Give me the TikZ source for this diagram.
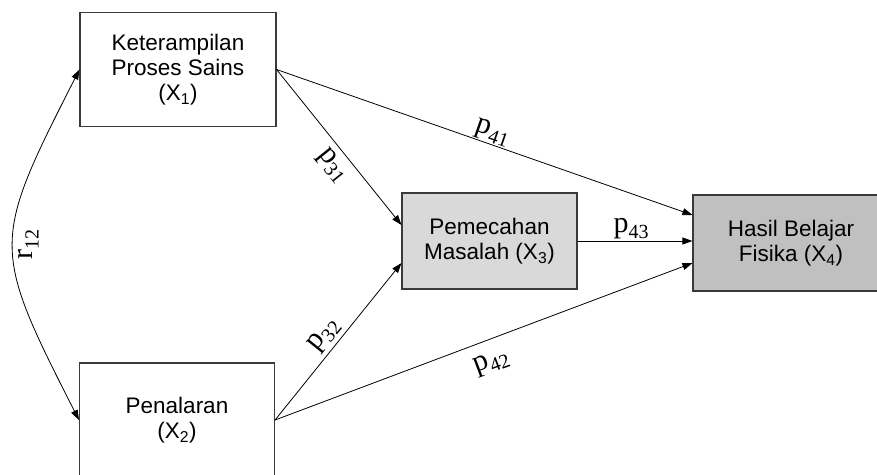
\documentclass[tikz,border=0pt]{standalone}
\usepackage{fontspec}
\setmainfont{Liberation Sans}
\newfontfamily\lblfont{Liberation Serif}
\usetikzlibrary{arrows.meta}
\definecolor{boxline}{HTML}{3A3A3A}
\definecolor{lightfill}{HTML}{D9D9D9}
\definecolor{darkfill}{HTML}{C0C0C0}
\newcommand{\pathlab}[2]{{\lblfont\fontsize{30}{30}\selectfont #1\raisebox{-6pt}{\fontsize{20}{20}\selectfont #2}}}

\begin{document}
\begin{tikzpicture}[x=1pt,y=-1pt,>={Triangle[length=10pt,width=7pt]},
  var/.style={draw=boxline,line width=1.1pt,align=center,inner sep=0pt,font=\fontsize{22.5}{25}\selectfont},
  link/.style={line width=0.8pt,->},
  coef/.style={sloped,inner sep=1pt}]
\useasboundingbox (0,0) rectangle (877,474);
\node[var,minimum width=196pt,minimum height=114pt] (ksp) at (178,69.5) {Keterampilan\\Proses Sains\\(X\textsubscript{1})};
\node[var,minimum width=195pt,minimum height=114pt] (pen) at (177,420) {Penalaran\\(X\textsubscript{2})};
\node[var,fill=lightfill,minimum width=175pt,minimum height=96pt] (pm) at (489.5,241) {Pemecahan\\Masalah (X\textsubscript{3})};
\node[var,fill=darkfill,minimum width=196pt,minimum height=96pt] (hbf) at (791,243) {Hasil Belajar\\Fisika (X\textsubscript{4})};

\draw[link] (ksp.east) -- node[coef,above,pos=0.51] {\pathlab{p}{41}} ([yshift=28pt]hbf.west);
\draw[link] (ksp.east) -- node[coef,below=5pt,pos=0.55] {\pathlab{p}{31}} ([yshift=16pt]pm.west);
\draw[link] (pen.east) -- node[coef,above=3pt,pos=0.48] {\pathlab{p}{32}} ([yshift=-22pt]pm.west);
\draw[link] (pen.east) -- node[coef,below=11pt,pos=0.5] {\pathlab{p}{42}} ([yshift=-20pt]hbf.west);
\draw[link] (pm.east) -- node[above,inner sep=2pt,xshift=-4pt] {\pathlab{p}{43}} (pm.east -| hbf.west);
\draw[link,<->] (ksp.west) .. controls +(-88,173) and +(-88,-173) .. node[midway,anchor=north,rotate=90,inner sep=5pt] {\pathlab{r}{12}} (pen.west);
\end{tikzpicture}
\end{document}
